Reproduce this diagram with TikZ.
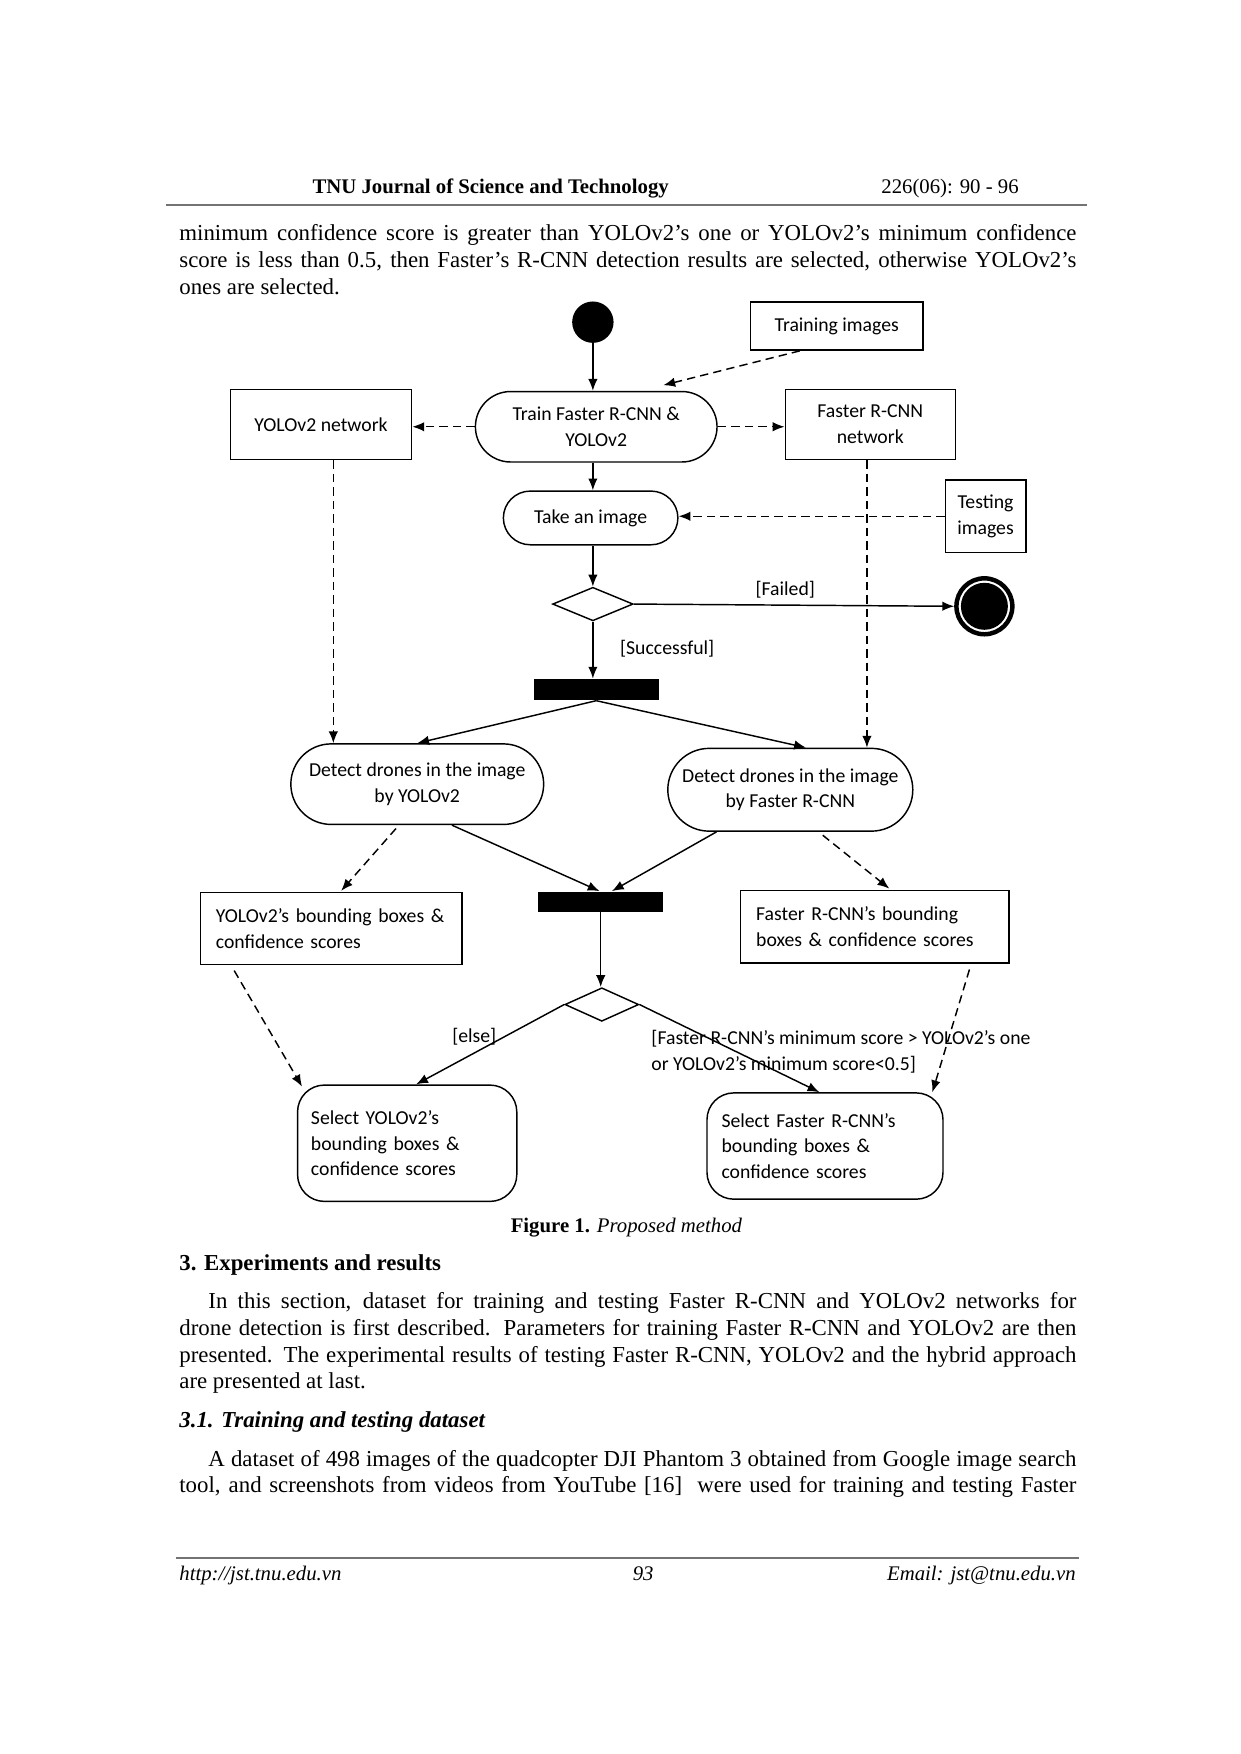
\documentclass[tikz,border=0pt]{standalone}
\usepackage{fontspec}
\setmainfont{Liberation Serif}
\newfontfamily\diagfont{Carlito}
\usepackage{tikz}
\usetikzlibrary{arrows.meta,shapes.geometric,shapes.misc,calc}
\newlength{\unitpx}
\setlength{\unitpx}{0.18936mm}
\colorlet{rulegray}{black!55}
\newcommand{\jline}[2]{\makebox[#1\unitpx][s]{#2}}
\tikzset{
  diagtext/.style={font=\diagfont\fontsize{9.5}{12.4}\selectfont},
  flow/.style={line width=0.7pt,-{Latex[length=2mm,width=1.6mm]}},
  dataflow/.style={flow,dash pattern=on 4pt off 2.5pt},
  actbox/.style={rounded rectangle,draw,line width=0.7pt,diagtext,align=center,inner sep=0pt},
  selbox/.style={rectangle,draw,line width=0.7pt,diagtext,rounded corners=24\unitpx,align=left,inner sep=0pt},
  objbox/.style={rectangle,draw,line width=0.7pt,diagtext,align=center,inner sep=0pt},
  choice/.style={diamond,draw,line width=0.7pt,inner sep=0pt,aspect=2.4},
  startdot/.style={circle,fill=black,inner sep=0pt,minimum size=37\unitpx},
  endring/.style={circle,draw,line width=4\unitpx,inner sep=0pt,minimum size=50\unitpx},
  syncbar/.style={rectangle,fill=black,inner sep=0pt},
  guard/.style={diagtext,inner sep=0pt},
  body/.style={font=\fontsize{11}{12.9}\selectfont,inner sep=0pt,anchor=base west},
  pagenote/.style={font=\fontsize{10}{12}\selectfont,inner sep=0pt}
}
\begin{document}
\begin{tikzpicture}[x=\unitpx,y=-\unitpx]
\useasboundingbox (0,0) rectangle (1109,1568);
\coordinate (hl) at (148,183);
\coordinate (hr) at (972,183);
\coordinate (fl) at (157,1393);
\coordinate (fr) at (965,1393);
\draw[rulegray,line width=1pt] (hl) -- (hr);
\draw[rulegray,line width=1pt] (fl) -- (fr);
\node[pagenote,font=\fontsize{10}{12}\selectfont\bfseries,anchor=base west] (jname) at (279,173) {TNU Journal of Science and Technology};
\node[pagenote,anchor=base east] (issue) at (911,173) {226(06): 90 - 96};
\node[body] (p1a) at (160,215) {\jline{802}{minimum confidence score is greater than YOLOv2’s one or YOLOv2’s minimum confidence}};
\node[body] (p1b) at (160,239) {\jline{802}{score is less than 0.5, then Faster’s R-CNN detection results are selected, otherwise YOLOv2’s}};
\node[body] (p1c) at (160,263) {ones are selected.};

\node[startdot] (start) at (530,288) {};
\node[objbox,minimum width=154\unitpx,minimum height=43\unitpx] (trainimg) at (748,291.5) {Training images};
\node[objbox,minimum width=162\unitpx,minimum height=63\unitpx] (yolonet) at (287,379.5) {YOLOv2 network};
\node[actbox,minimum width=216\unitpx,minimum height=63\unitpx] (train) at (533,381.5) {Train Faster R-CNN \&\\YOLOv2};
\node[objbox,minimum width=152\unitpx,minimum height=63\unitpx] (fastnet) at (778,379.5) {Faster R-CNN\\network};
\node[actbox,minimum width=156\unitpx,minimum height=48\unitpx] (take) at (528,463) {Take an image};
\node[objbox,minimum width=72\unitpx,minimum height=65\unitpx] (testimg) at (881,461.5) {Testing\\images};
\node[choice,minimum width=72\unitpx,minimum height=30\unitpx] (dec1) at (530,540) {};
\node[endring] (final) at (880,542) {};
\node[startdot,minimum size=42\unitpx] (finaldot) at (final.center) {};
\node[syncbar,minimum width=112\unitpx,minimum height=19\unitpx] (fork) at (533,616.5) {};
\node[actbox,minimum width=226\unitpx,minimum height=72\unitpx] (detyolo) at (373,701) {Detect drones in the image\\by YOLOv2};
\node[actbox,minimum width=219\unitpx,minimum height=74\unitpx] (detfast) at (706.5,706) {Detect drones in the image\\by Faster R-CNN};
\node[syncbar,minimum width=112\unitpx,minimum height=18\unitpx] (join) at (537,806) {};
\node[objbox,minimum width=234\unitpx,minimum height=64\unitpx,align=left,text width=206\unitpx] (bbyolo) at (296,830) {YOLOv2’s bounding boxes \&\\confidence scores};
\node[objbox,minimum width=240\unitpx,minimum height=65\unitpx,align=left,text width=212\unitpx] (bbfast) at (782,828.5) {Faster R-CNN’s bounding\\boxes \& confidence scores};
\node[choice,minimum width=66\unitpx,minimum height=30\unitpx] (dec2) at (538,898) {};
\node[selbox,minimum width=196\unitpx,minimum height=104\unitpx,text width=172\unitpx] (selyolo) at (364,1022) {Select YOLOv2’s\\bounding boxes \&\\confidence scores};
\node[selbox,minimum width=211\unitpx,minimum height=95\unitpx,text width=185\unitpx] (selfast) at (737.5,1024.5) {Select Faster R-CNN’s\\bounding boxes \&\\confidence scores};

\node[guard,anchor=base] (lfail) at (702,532) {[Failed]};
\node[guard,anchor=base west] (lsucc) at (554,585) {[Successful]};
\node[guard,anchor=base east] (lelse) at (444,932) {[else]};
\node[guard,anchor=west,align=left] (lcond) at (582,940) {[Faster R-CNN’s minimum score > YOLOv2’s one\\or YOLOv2’s minimum score<0.5]};

\draw[flow] (start.south) -- (start.south |- train.north);
\draw[dataflow] ([xshift=-33\unitpx]trainimg.south) -- ($(train.north)+(60,-5)$);
\draw[dataflow] (train.west) -- (train.west -| yolonet.east);
\draw[dataflow] (train.east) -- (train.east -| fastnet.west);
\draw[flow] (start.south |- train.south) -- (start.south |- take.north);
\draw[dataflow] (testimg.west) -- (testimg.west -| take.east);
\draw[flow] (start.south |- take.south) -- (dec1.north);
\draw[flow] (dec1.east) -- (final.west);
\draw[flow] (dec1.south) -- (dec1.south |- fork.north);
\draw[dataflow] ([xshift=11\unitpx]yolonet.south) -- ([xshift=11\unitpx]yolonet.south |- detyolo.north);
\draw[dataflow] ([xshift=-3\unitpx]fastnet.south) -- ([xshift=-3\unitpx]fastnet.south |- detfast.north);
\draw[flow] (fork.south) -- (detyolo.north);
\draw[flow] (fork.south) -- ($(detfast.north)+(14,0)$);
\draw[flow] ($(detyolo.south)+(31,0)$) -- ($(join.north)+(-1,0)$);
\draw[flow] ($(detfast.south)+(-66,0)$) -- ($(join.north)+(10,0)$);
\draw[dataflow] ($(detyolo.south)+(-19,3)$) -- ($(bbyolo.north)+(9,-1)$);
\draw[dataflow] ($(detfast.south)+(29,3)$) -- ($(bbfast.north)+(13,-1)$);
\draw[flow] (join.south) -- (join.south |- dec2.north);
\draw[flow] (dec2.west) -- ($(selyolo.north)+(8,0)$);
\draw[flow] (dec2.east) -- ($(selfast.north)+(-5,0)$);
\draw[dataflow] ($(bbyolo.south west)+(31,5)$) -- ($(selyolo.north)+(-94,2)$);
\draw[dataflow] ($(bbfast.south east)+(-36,5)$) -- ($(selfast.north)+(96,0)$);

\node[pagenote,anchor=base] (caption) at (560,1102) {\textbf{Figure 1.} \textit{Proposed method}};
\node[body,font=\fontsize{11}{12.9}\selectfont\bfseries] (sec) at (160,1136) {3. Experiments and results};
\node[body] (p2a) at (186,1170) {\jline{776}{In this section, dataset for training and testing Faster R-CNN and YOLOv2 networks for}};
\node[body] (p2b) at (160,1194) {\jline{802}{drone detection is first described. Parameters for training Faster R-CNN and YOLOv2 are then}};
\node[body] (p2c) at (160,1218) {\jline{802}{presented. The experimental results of testing Faster R-CNN, YOLOv2 and the hybrid approach}};
\node[body] (p2d) at (160,1241) {are presented at last.};
\node[body,font=\fontsize{11}{12.9}\selectfont\bfseries\itshape] (subsec) at (160,1276) {3.1. Training and testing dataset};
\node[body] (p3a) at (186,1311) {\jline{776}{A dataset of 498 images of the quadcopter DJI Phantom 3 obtained from Google image search}};
\node[body] (p3b) at (160,1334) {\jline{802}{tool, and screenshots from videos from YouTube [16] \ were used for training and testing Faster}};
\node[pagenote,font=\fontsize{10}{12}\selectfont\itshape,anchor=base west] (url) at (160,1413) {http://jst.tnu.edu.vn};
\node[pagenote,font=\fontsize{10}{12}\selectfont\itshape,anchor=base] (pageno) at (575,1413) {93};
\node[pagenote,font=\fontsize{10}{12}\selectfont\itshape,anchor=base east] (email) at (962,1413) {Email: jst@tnu.edu.vn};
\end{tikzpicture}
\end{document}
